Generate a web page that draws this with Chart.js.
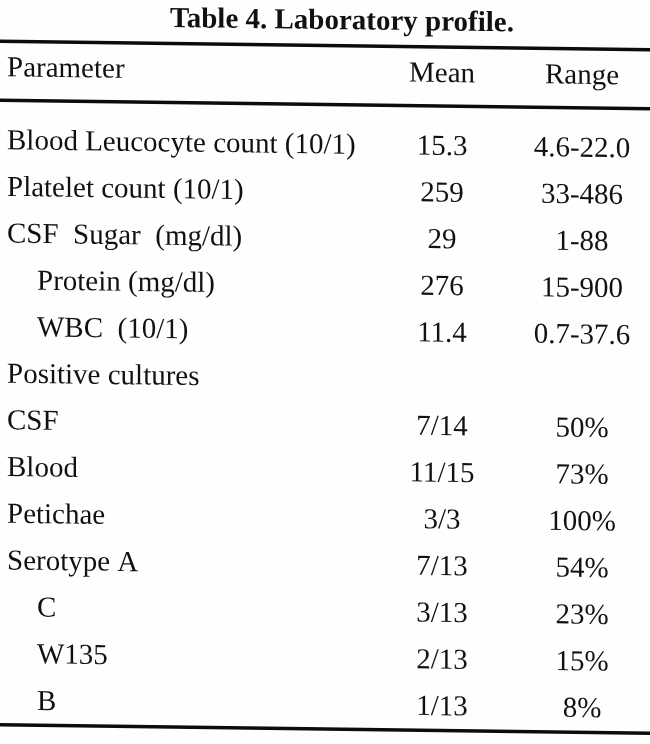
<!DOCTYPE html>
<html>
<head>
<meta charset="utf-8">
<script src="https://cdn.jsdelivr.net/npm/chart.js@4"></script>
<style>
html,body{margin:0;padding:0;background:#ffffff;}
#wrap{width:650px;height:744px;}
</style>
</head>
<body>
<div id="wrap"><canvas id="c" width="650" height="744"></canvas></div>
<script>
const tableTitle = 'Table 4. Laboratory profile.';
const columnHeaders = ['Parameter', 'Mean', 'Range'];
const parameters = [
  'Blood Leucocyte count (10/1)',
  'Platelet count (10/1)',
  'CSF  Sugar  (mg/dl)',
  'Protein (mg/dl)',
  'WBC  (10/1)',
  'Positive cultures',
  'CSF',
  'Blood',
  'Petichae',
  'Serotype A',
  'C',
  'W135',
  'B'
];
const levels = [0, 0, 0, 1, 1, 0, 0, 0, 0, 0, 1, 1, 1];
const means = ['15.3', '259', '29', '276', '11.4', '', '7/14', '11/15', '3/3', '7/13', '3/13', '2/13', '1/13'];
const ranges = ['4.6-22.0', '33-486', '1-88', '15-900', '0.7-37.6', '', '50%', '73%', '100%', '54%', '23%', '15%', '8%'];

const rowKeys = parameters.map((p, i) => 'r' + i);

const tablePlugin = {
  id: 'tableText',
  afterDraw(chart, args, opts) {
    const ctx = chart.ctx;
    const xs = chart.scales.x, ys = chart.scales.y;
    ctx.save();
    // slight skew, as in the scanned page
    ctx.transform(1, opts.skew, 0, 1, 0, -opts.skewCenter * opts.skew);
    ctx.fillStyle = opts.color;
    ctx.textBaseline = 'alphabetic';
    // title
    ctx.font = 'bold ' + opts.titleSize + 'px "Liberation Serif", "Times New Roman", serif';
    ctx.textAlign = 'center';
    ctx.fillText(tableTitle, opts.titleX, opts.titleY);
    // rules
    ctx.strokeStyle = opts.ruleColor;
    ctx.lineWidth = opts.ruleWidth;
    opts.rules.forEach(y => {
      ctx.beginPath();
      ctx.moveTo(-10, y);
      ctx.lineTo(chart.width + 10, y);
      ctx.stroke();
    });
    ctx.font = opts.bodySize + 'px "Liberation Serif", "Times New Roman", serif';
    // header
    ctx.textAlign = 'left';
    ctx.fillText(columnHeaders[0], opts.leftX, opts.headerY);
    ctx.textAlign = 'center';
    ctx.fillText(columnHeaders[1], xs.getPixelForValue(0), opts.headerY);
    ctx.fillText(columnHeaders[2], xs.getPixelForValue(1), opts.headerY);
    // rows
    parameters.forEach((p, i) => {
      const y = ys.getPixelForValue(i);
      ctx.textAlign = 'left';
      ctx.fillText(p, opts.leftX + levels[i] * opts.indent, y);
      ctx.textAlign = 'center';
      if (means[i]) ctx.fillText(means[i], xs.getPixelForValue(0), y);
      if (ranges[i]) ctx.fillText(ranges[i], xs.getPixelForValue(1), y);
    });
    ctx.restore();
  }
};

const bgPlugin = {
  id: 'bg',
  beforeDraw(chart) {
    const ctx = chart.ctx;
    ctx.save();
    ctx.fillStyle = '#fefefc';
    ctx.fillRect(0, 0, chart.width, chart.height);
    ctx.restore();
  }
};

new Chart(document.getElementById('c'), {
  type: 'scatter',
  data: {
    datasets: [{
      data: means.map((m, i) => ({ x: 'Mean', y: rowKeys[i] })),
      pointRadius: 0,
      pointHoverRadius: 0
    }]
  },
  options: {
    responsive: false,
    animation: false,
    events: [],
    layout: { padding: { left: 442, right: 68, top: 130, bottom: 7 } },
    scales: {
      x: { type: 'category', labels: ['Mean', 'Range'], offset: false, display: false },
      y: { type: 'category', labels: rowKeys, offset: true, display: false }
    },
    plugins: {
      legend: { display: false },
      tooltip: { enabled: false },
      title: { display: false },
      tableText: {
        color: '#111111',
        ruleColor: '#0c0c0c',
        titleSize: 29,
        titleX: 342,
        titleY: 29,
        bodySize: 29,
        headerY: 80.5,
        leftX: 7,
        indent: 30,
        ruleWidth: 3.5,
        rules: [45.5, 104.5, 729],
        skew: 0.013,
        skewCenter: 325
      }
    }
  },
  plugins: [bgPlugin, tablePlugin]
});
</script>
</body>
</html>
